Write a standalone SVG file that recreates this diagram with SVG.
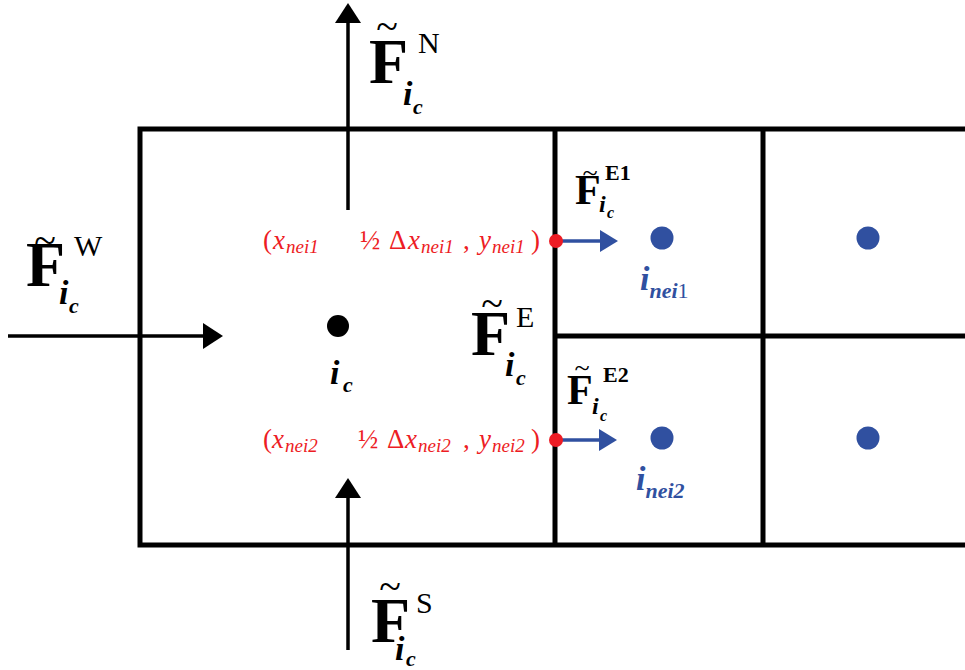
<svg xmlns="http://www.w3.org/2000/svg" width="965" height="670" viewBox="0 0 965 670">
<style>
.grid{stroke:#000;stroke-width:5;fill:none}
.arr{stroke:#000;stroke-width:3.5;fill:none}
.barr{stroke:#3050A0;stroke-width:3.5;fill:none}
.F{font-family:"Liberation Serif",serif;font-weight:bold;fill:#000}
.sup{font-family:"Liberation Serif",serif;fill:#000}
.sub{font-family:"Liberation Serif",serif;font-weight:bold;font-style:italic;fill:#000}
.til{font-family:"Liberation Serif",serif;fill:#000;text-anchor:middle}
.red{font-family:"Liberation Serif",serif;fill:#ED1C24;font-size:27px}
.it{font-style:italic}
.rs{font-size:19px;font-style:italic}
.blue{font-family:"Liberation Serif",serif;font-weight:bold;font-style:italic;fill:#3050A0}
</style>
<defs>
<marker id="ah" markerUnits="userSpaceOnUse" markerWidth="20" markerHeight="26" viewBox="0 0 20 26" refX="0" refY="13" orient="auto">
<path d="M0,0 L20,13 L0,26 Z" fill="#000"/>
</marker>
<marker id="bh" markerUnits="userSpaceOnUse" markerWidth="18" markerHeight="22" viewBox="0 0 18 22" refX="0" refY="11" orient="auto">
<path d="M0,0 L18,11 L0,22 Z" fill="#3050A0"/>
</marker>
</defs>

<g id="cells">
<rect class="grid" x="140" y="129" width="840" height="416"/>
<line class="grid" x1="555" y1="129" x2="555" y2="545"/>
<line class="grid" x1="763" y1="129" x2="763" y2="545"/>
<line class="grid" x1="555" y1="336" x2="970" y2="336"/>
</g>

<g id="connectors">
<line class="arr" x1="8" y1="336" x2="203" y2="336" marker-end="url(#ah)"/>
<line class="arr" x1="348" y1="210" x2="348" y2="23" marker-end="url(#ah)"/>
<line class="arr" x1="348" y1="650" x2="348" y2="498" marker-end="url(#ah)"/>
<line class="barr" x1="556" y1="241" x2="600" y2="241" marker-end="url(#bh)"/>
<line class="barr" x1="556" y1="440" x2="599" y2="440" marker-end="url(#bh)"/>
</g>

<g id="node-ic">
<circle cx="338" cy="326" r="11" fill="#000"/>
<text class="sub" x="330" y="384" font-size="34">i</text>
<text class="sub" x="343" y="392" font-size="22">c</text>
</g>

<g id="node-nei1">
<circle cx="662" cy="238" r="11.5" fill="#3050A0"/>
<text class="blue" x="640" y="290" font-size="34">i<tspan font-size="22" dy="8">nei</tspan><tspan font-size="22" font-style="normal" font-weight="normal">1</tspan></text>
</g>
<g id="node-nei2">
<circle cx="662" cy="438" r="11.5" fill="#3050A0"/>
<text class="blue" x="636" y="490" font-size="34">i<tspan font-size="22" dy="8">nei2</tspan></text>
</g>
<g id="node-r1"><circle cx="868" cy="238" r="11.5" fill="#3050A0"/></g>
<g id="node-r2"><circle cx="868" cy="438" r="11.5" fill="#3050A0"/></g>

<g id="face-pt1">
<circle cx="556" cy="241" r="7" fill="#ED1C24"/>
<text class="red" y="249"><tspan x="263">(</tspan><tspan class="it" x="273">x</tspan><tspan class="rs" x="286" dy="4">nei1</tspan><tspan x="360" dy="-4">½</tspan><tspan x="389">Δ</tspan><tspan class="it" x="408">x</tspan><tspan class="rs" x="421" dy="4">nei1</tspan><tspan x="463" dy="-4">,</tspan><tspan class="it" x="479">y</tspan><tspan class="rs" x="492" dy="4">nei1</tspan><tspan x="531" dy="-4">)</tspan></text>
</g>
<g id="face-pt2">
<circle cx="556" cy="440" r="7" fill="#ED1C24"/>
<text class="red" y="448"><tspan x="263">(</tspan><tspan class="it" x="272">x</tspan><tspan class="rs" x="285" dy="4">nei2</tspan><tspan x="358" dy="-4">½</tspan><tspan x="387">Δ</tspan><tspan class="it" x="405">x</tspan><tspan class="rs" x="418" dy="4">nei2</tspan><tspan x="463" dy="-4">,</tspan><tspan class="it" x="479">y</tspan><tspan class="rs" x="492" dy="4">nei2</tspan><tspan x="531" dy="-4">)</tspan></text>
</g>

<g id="label-FN">
<text class="til" x="387" y="40" font-size="40">~</text>
<text class="F" x="369" y="83" font-size="64">F</text>
<text class="sup" x="418" y="53" font-size="30">N</text>
<text class="sub" x="403" y="105" font-size="34">i</text>
<text class="sub" x="413" y="114" font-size="22">c</text>
</g>
<g id="label-FW">
<text class="til" x="45" y="254" font-size="40">~</text>
<text class="F" x="26" y="286" font-size="64">F</text>
<text class="sup" x="74" y="256" font-size="30">W</text>
<text class="sub" x="59" y="304" font-size="34">i</text>
<text class="sub" x="69" y="313" font-size="22">c</text>
</g>
<g id="label-FE">
<text class="til" x="492" y="317" font-size="40">~</text>
<text class="F" x="471" y="355" font-size="64">F</text>
<text class="sup" x="516" y="327" font-size="30">E</text>
<text class="sub" x="505" y="376" font-size="34">i</text>
<text class="sub" x="516" y="385" font-size="22">c</text>
</g>
<g id="label-FS">
<text class="til" x="390" y="600" font-size="40">~</text>
<text class="F" x="371" y="642" font-size="64">F</text>
<text class="sup" x="416" y="613" font-size="30">S</text>
<text class="sub" x="395" y="660" font-size="34">i</text>
<text class="sub" x="406" y="666" font-size="22">c</text>
</g>
<g id="label-FE1">
<text class="til" x="590" y="182" font-size="28">~</text>
<text class="F" x="575" y="204" font-size="42">F</text>
<text class="sup" x="605" y="180" font-size="22" font-weight="bold">E1</text>
<text class="sub" x="599" y="212" font-size="24">i</text>
<text class="sub" x="607" y="218" font-size="16">c</text>
</g>
<g id="label-FE2">
<text class="til" x="582" y="377" font-size="28">~</text>
<text class="F" x="567" y="404" font-size="42">F</text>
<text class="sup" x="603" y="382" font-size="22" font-weight="bold">E2</text>
<text class="sub" x="592" y="414" font-size="24">i</text>
<text class="sub" x="600" y="421" font-size="16">c</text>
</g>
</svg>
